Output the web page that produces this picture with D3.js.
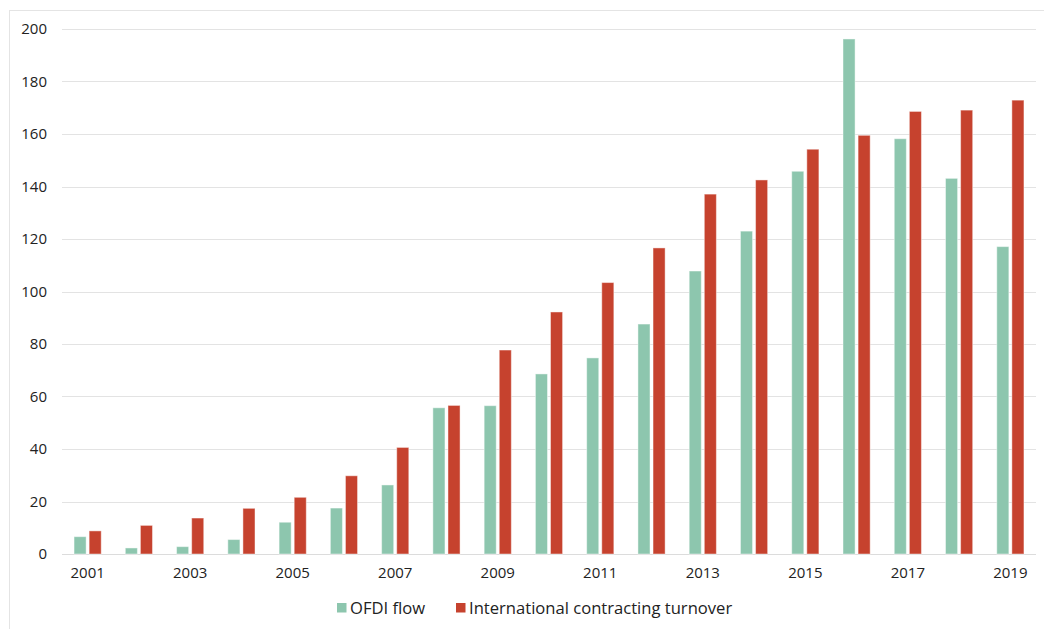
<!DOCTYPE html>
<html>
<head>
<meta charset="utf-8">
<script src="https://cdn.jsdelivr.net/npm/d3@7"></script>
<style>
  html, body { margin: 0; padding: 0; background: #fff; }
  svg { display: block; font-family: "Open Sans", "Noto Sans", sans-serif; }
</style>
</head>
<body>
<svg id="chart" width="1044" height="629"></svg>
<script>
// Years on the category axis
const years = [2001, 2002, 2003, 2004, 2005, 2006, 2007, 2008, 2009, 2010,
               2011, 2012, 2013, 2014, 2015, 2016, 2017, 2018, 2019];
// Outward FDI flow
const ofdiFlow = [6.6, 2.3, 2.8, 5.5, 12.1, 17.5, 26.3, 55.7, 56.5, 68.6,
                  74.7, 87.6, 107.8, 123.0, 145.8, 196.2, 158.2, 143.1, 117.1];
// International contracting turnover
const contractingTurnover = [8.8, 10.9, 13.7, 17.4, 21.6, 29.8, 40.6, 56.6, 77.7, 92.2,
                             103.4, 116.6, 137.1, 142.5, 154.2, 159.5, 168.6, 169.1, 172.9];
const seriesNames = ["OFDI flow", "International contracting turnover"];
const seriesColors = ["#8dc6ae", "#c6422e"];
const yTicks = [0, 20, 40, 60, 80, 100, 120, 140, 160, 180, 200];
const xTickYears = [2001, 2003, 2005, 2007, 2009, 2011, 2013, 2015, 2017, 2019];

const svg = d3.select("#chart");

// outer frame
svg.append("rect")
  .attr("x", 9.5).attr("y", 10.5)
  .attr("width", 1040).attr("height", 630)
  .attr("fill", "none").attr("stroke", "#e4e4e4");

const plot = { left: 62, right: 1036, top: 29, bottom: 554 };

const x0 = d3.scaleBand()
  .domain(years)
  .range([plot.left, plot.right])
  .paddingInner(0.47)
  .paddingOuter(0.235);

const x1 = d3.scaleBand()
  .domain(seriesNames)
  .range([0, x0.bandwidth()])
  .paddingInner(0.2);

const y = d3.scaleLinear()
  .domain([0, 200])
  .range([plot.bottom, plot.top]);

// horizontal grid
svg.append("g")
  .selectAll("line")
  .data(yTicks)
  .join("line")
  .attr("x1", plot.left).attr("x2", plot.right)
  .attr("y1", d => Math.round(y(d)) + 0.5)
  .attr("y2", d => Math.round(y(d)) + 0.5)
  .attr("stroke", d => d === 0 ? "#dcdcdc" : "#e3e3e3")
  .attr("stroke-width", 1.2);

// y axis labels
const yAxis = d3.axisLeft(y).tickValues(yTicks).tickSize(0).tickPadding(0);
svg.append("g")
  .attr("transform", `translate(${47},0)`)
  .call(yAxis)
  .call(g => g.select(".domain").remove())
  .call(g => g.selectAll("text")
    .attr("font-size", 15)
    .attr("fill", "#222")
    .attr("font-family", "\"Open Sans\", sans-serif"));

// x axis labels
const xAxis = d3.axisBottom(x0).tickValues(xTickYears).tickSize(0).tickPadding(0);
svg.append("g")
  .attr("transform", `translate(0,${567})`)
  .call(xAxis)
  .call(g => g.select(".domain").remove())
  .call(g => g.selectAll("text")
    .attr("dy", "0.71em")
    .attr("font-size", 15)
    .attr("fill", "#222")
    .attr("font-family", "\"Open Sans\", sans-serif"));

// bars
const rows = years.map((yr, i) => ({
  year: yr,
  values: [ofdiFlow[i], contractingTurnover[i]]
}));

const groups = svg.append("g")
  .selectAll("g")
  .data(rows)
  .join("g")
  .attr("transform", d => `translate(${x0(d.year)},0)`);

groups.selectAll("rect")
  .data(d => d.values.map((v, k) => ({ key: seriesNames[k], value: v, k })))
  .join("rect")
  .attr("x", d => x1(d.key))
  .attr("y", d => y(d.value))
  .attr("width", x1.bandwidth())
  .attr("height", d => y(0) - y(d.value))
  .attr("fill", d => seriesColors[d.k])
  .attr("stroke", "rgba(255,255,255,0.45)")
  .attr("stroke-width", 1);

// legend
const legendItems = [
  { name: seriesNames[0], color: seriesColors[0], x: 337 },
  { name: seriesNames[1], color: seriesColors[1], x: 456 }
];
const legend = svg.append("g");
legendItems.forEach(it => {
  legend.append("rect")
    .attr("x", it.x).attr("y", 603)
    .attr("width", 9.5).attr("height", 9.5)
    .attr("fill", it.color);
  legend.append("text")
    .attr("x", it.x + 13).attr("y", 613.5)
    .attr("font-size", 16.6)
    .attr("fill", "#222")
    .text(it.name);
});
</script>
</body>
</html>
